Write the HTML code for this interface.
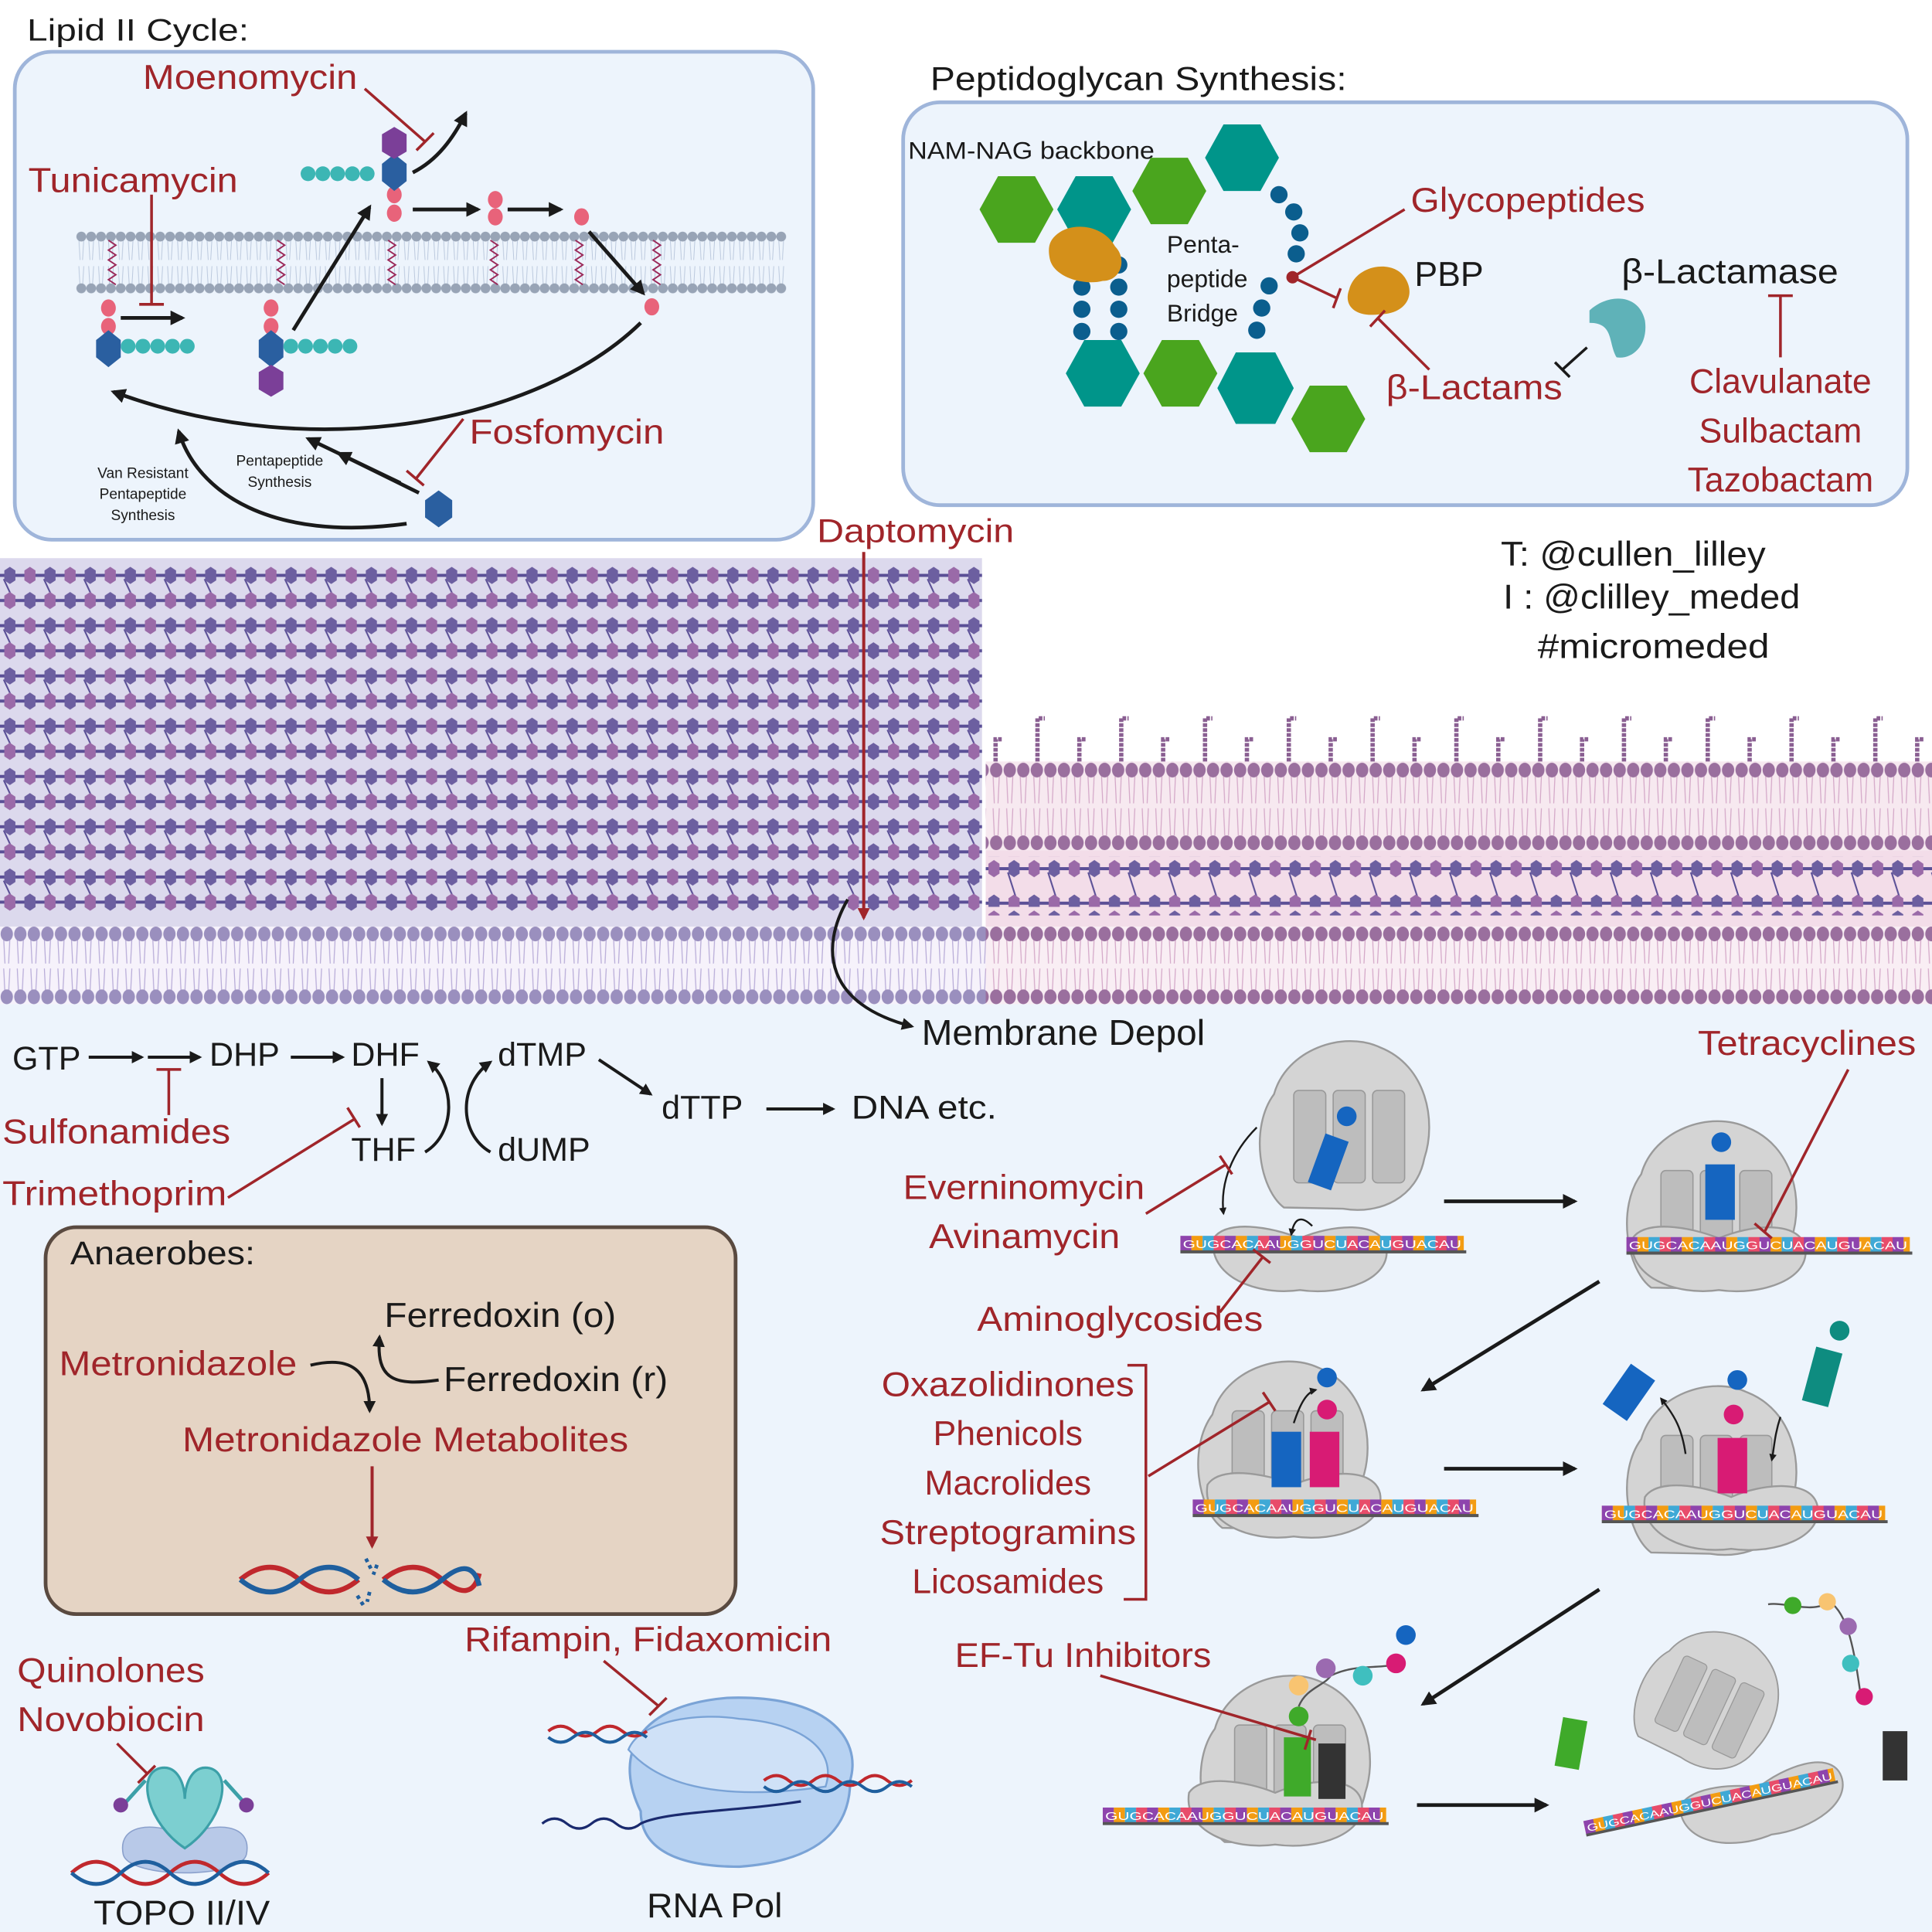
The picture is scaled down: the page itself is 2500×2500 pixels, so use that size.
<!DOCTYPE html>
<html><head><meta charset="utf-8"><style>
html,body{margin:0;padding:0;background:#fff}
svg{display:block}
text{font-family:"Liberation Sans",sans-serif}
.r{fill:#a0252a}
.k{fill:#1a1a1a}
</style></head><body>
<svg width="2500" height="2500" viewBox="0 0 1568 1568" xmlns="http://www.w3.org/2000/svg">
<defs>
 <marker id="ah" viewBox="0 0 10 10" refX="8" refY="5" markerWidth="4" markerHeight="4" orient="auto"><path d="M0,0L10,5L0,10Z" fill="#1a1a1a"/></marker>
 <marker id="ahr" viewBox="0 0 10 10" refX="8" refY="5" markerWidth="4" markerHeight="4" orient="auto"><path d="M0,0L10,5L0,10Z" fill="#a0252a"/></marker>
 <pattern id="pg" patternUnits="userSpaceOnUse" x="0" y="457" width="32.6" height="40.8">
  <line x1="0" y1="10" x2="33" y2="10" stroke="#5a4f96" stroke-width="2.5"/>
  <line x1="0" y1="30.4" x2="33" y2="30.4" stroke="#5a4f96" stroke-width="2.5"/>
  <line x1="3" y1="13" x2="10" y2="28" stroke="#5a4f96" stroke-width="1.3"/>
  <path d="M8,3l4.5,3v8l-4.5,3l-4.5,-3v-8z" fill="#6c5fa0"/><path d="M24.3,3l4.5,3v8l-4.5,3l-4.5,-3v-8z" fill="#9a6aa8"/>
  <path d="M8,23.4l4.5,3v8l-4.5,3l-4.5,-3v-8z" fill="#9a6aa8"/><path d="M24.3,23.4l4.5,3v8l-4.5,3l-4.5,-3v-8z" fill="#6c5fa0"/>
 </pattern>
 <pattern id="pg2" patternUnits="userSpaceOnUse" x="0" y="695" width="32.6" height="41">
  <line x1="0" y1="10" x2="33" y2="10" stroke="#5a4f96" stroke-width="2.5"/>
  <line x1="0" y1="38" x2="33" y2="38" stroke="#5a4f96" stroke-width="2.5"/>
  <line x1="3" y1="13" x2="10" y2="35" stroke="#5a4f96" stroke-width="1.3"/>
  <path d="M8,3l4.5,3v8l-4.5,3l-4.5,-3v-8z" fill="#6c5fa0"/><path d="M24.3,3l4.5,3v8l-4.5,3l-4.5,-3v-8z" fill="#9a6aa8"/>
  <path d="M8,31l4.5,3v8l-4.5,3l-4.5,-3v-8z" fill="#9a6aa8"/><path d="M24.3,31l4.5,3v8l-4.5,3l-4.5,-3v-8z" fill="#6c5fa0"/>
 </pattern>
 <pattern id="mem" patternUnits="userSpaceOnUse" x="0" y="752" width="11" height="63">
  <path d="M3,10L4,30M8,10L7,30M3,34L4,54M8,34L7,54" stroke="#b8acd8" stroke-width="0.8"/>
  <ellipse cx="5.5" cy="6" rx="5" ry="6" fill="#9a8fbe"/><ellipse cx="5.5" cy="57" rx="5" ry="6" fill="#9a8fbe"/>
 </pattern>
 <pattern id="memp" patternUnits="userSpaceOnUse" x="0" y="752" width="11" height="63">
  <path d="M3,10L4,30M8,10L7,30M3,34L4,54M8,34L7,54" stroke="#d4a8c8" stroke-width="0.8"/>
  <ellipse cx="5.5" cy="6" rx="5" ry="6" fill="#9a6f9e"/><ellipse cx="5.5" cy="57" rx="5" ry="6" fill="#9a6f9e"/>
 </pattern>
 <pattern id="om" patternUnits="userSpaceOnUse" x="0" y="618" width="11" height="72">
  <path d="M3,12L4,34M8,12L7,34M3,38L4,60M8,38L7,60" stroke="#d4a8c8" stroke-width="0.8"/>
  <ellipse cx="5.5" cy="7" rx="5" ry="6" fill="#9a6f9e"/><ellipse cx="5.5" cy="66" rx="5" ry="6" fill="#9a6f9e"/>
 </pattern>
 <pattern id="lm" patternUnits="userSpaceOnUse" x="62" y="186" width="8" height="55">
  <path d="M2,8L3,25M6,8L5,25M2,30L3,47M6,30L5,47" stroke="#b9c7dc" stroke-width="0.6"/>
  <circle cx="4" cy="6" r="4" fill="#98a4b6"/><circle cx="4" cy="48" r="4" fill="#98a4b6"/>
 </pattern>
 <pattern id="cod" patternUnits="userSpaceOnUse" width="36" height="14">
  <rect x="0" y="0" width="9" height="14" fill="#8e44ad"/><rect x="9" y="0" width="9" height="14" fill="#f39c12"/>
  <rect x="18" y="0" width="9" height="14" fill="#3fa9d6"/><rect x="27" y="0" width="9" height="14" fill="#e84c6a"/>
 </pattern>
 <g id="big">
  <path d="M22,140 C2,125 -6,75 14,48 C24,12 70,-4 100,10 C138,25 146,70 136,100 C130,132 100,146 70,141 Z" fill="#d4d4d4" stroke="#9a9a9a" stroke-width="1.5"/>
  <rect x="30" y="45" width="26" height="75" rx="4" fill="#bdbdbd" stroke="#999"/>
  <rect x="62" y="45" width="26" height="75" rx="4" fill="#bdbdbd" stroke="#999"/>
  <rect x="94" y="45" width="26" height="75" rx="4" fill="#bdbdbd" stroke="#999"/>
 </g>
 <g id="small">
  <path d="M5,15 C15,0 50,5 75,15 C100,4 140,0 145,22 C150,48 110,62 75,57 C40,62 0,46 5,15 Z" fill="#d4d4d4" stroke="#9a9a9a" stroke-width="1.5"/>
 </g>
 <g id="mrna">
  <rect x="0" y="0" width="230" height="12" fill="url(#cod)"/>
  <line x1="0" y1="13" x2="232" y2="13" stroke="#555" stroke-width="2.5"/>
  <text x="2" y="10" font-size="9" fill="#fff" textLength="226" lengthAdjust="spacingAndGlyphs">GUGCACAAUGGUCUACAUGUACAU</text>
 </g>
</defs>

<rect x="0" y="0" width="1568" height="1568" fill="#fff"/>
<rect x="0" y="812" width="1568" height="756" fill="#edf4fc"/>
<rect x="0" y="453" width="797" height="300" fill="#dcd9ed"/>
<rect x="0" y="457" width="797" height="285" fill="url(#pg)"/>
<rect x="800" y="690" width="768" height="62" fill="#f3dde9"/>
<rect x="800" y="695" width="768" height="48" fill="url(#pg2)"/>
<rect x="800" y="618" width="768" height="72" fill="#f7e9f0"/>
<rect x="800" y="618" width="768" height="72" fill="url(#om)"/>
<rect x="0" y="752" width="800" height="63" fill="#f6f2fb"/>
<rect x="0" y="752" width="800" height="63" fill="url(#mem)"/>
<rect x="800" y="752" width="768" height="63" fill="#f9eef4"/>
<rect x="800" y="752" width="768" height="63" fill="url(#memp)"/>
<g stroke="#8a5f92" stroke-width="3.5" stroke-dasharray="3,1" fill="none">
 <path d="M808,618V600h6M842,618V583h6M876,618V600h6M910,618V583h6M944,618V600h6M978,618V583h6M1012,618V600h6M1046,618V583h6M1080,618V600h6M1114,618V583h6M1148,618V600h6M1182,618V583h6M1216,618V600h6M1250,618V583h6M1284,618V600h6M1318,618V583h6M1352,618V600h6M1386,618V583h6M1420,618V600h6M1454,618V583h6M1488,618V600h6M1522,618V583h6M1556,618V600h6"/>
</g>
<line x1="701" y1="448" x2="701" y2="745" stroke="#a0252a" stroke-width="2.5" marker-end="url(#ahr)"/>
<path d="M688,730 C665,770 670,815 740,833" stroke="#1a1a1a" stroke-width="2.5" fill="none" marker-end="url(#ah)"/>
<text x="663" y="440" font-size="27" class="r" textLength="160" lengthAdjust="spacingAndGlyphs">Daptomycin</text>
<text x="748" y="848" font-size="29" class="k" textLength="230" lengthAdjust="spacingAndGlyphs">Membrane Depol</text>

<text x="22" y="33" font-size="25" class="k" textLength="180" lengthAdjust="spacingAndGlyphs">Lipid II Cycle:</text>
<rect x="12" y="42" width="648" height="396" rx="30" fill="#edf4fc" stroke="#9fb5da" stroke-width="3"/>
<rect x="62" y="186" width="576" height="55" fill="url(#lm)"/>
<g stroke="#9b2a5a" stroke-width="1.2" fill="none">
 <path d="M88,195l6,4l-6,4l6,4l-6,4l6,4l-6,4l6,4l-6,4l6,4M225,195l6,4l-6,4l6,4l-6,4l6,4l-6,4l6,4l-6,4l6,4M315,195l6,4l-6,4l6,4l-6,4l6,4l-6,4l6,4l-6,4l6,4M398,195l6,4l-6,4l6,4l-6,4l6,4l-6,4l6,4l-6,4l6,4M467,195l6,4l-6,4l6,4l-6,4l6,4l-6,4l6,4l-6,4l6,4M530,195l6,4l-6,4l6,4l-6,4l6,4l-6,4l6,4l-6,4l6,4"/>
</g>
<g fill="#e8637a">
 <ellipse cx="88" cy="250" rx="6" ry="7"/><ellipse cx="88" cy="265" rx="6" ry="7"/>
 <ellipse cx="220" cy="250" rx="6" ry="7"/><ellipse cx="220" cy="265" rx="6" ry="7"/>
 <ellipse cx="320" cy="158" rx="6" ry="7"/><ellipse cx="320" cy="173" rx="6" ry="7"/>
 <ellipse cx="402" cy="162" rx="6" ry="7"/><ellipse cx="402" cy="176" rx="6" ry="7"/>
 <ellipse cx="472" cy="176" rx="6" ry="7"/><ellipse cx="529" cy="249" rx="6" ry="7"/>
</g>
<g fill="#2a5fa0">
 <path d="M88,268l10,8v14l-10,8l-10,-8v-14z"/><path d="M220,268l10,8v14l-10,8l-10,-8v-14z"/>
 <path d="M320,125l10,8v14l-10,8l-10,-8v-14z"/><path d="M356,398l11,8v14l-11,8l-11,-8v-14z"/>
</g>
<g fill="#7b3f98"><path d="M220,296l10,6v14l-10,6l-10,-6v-14z"/><path d="M320,103l10,6v14l-10,6l-10,-6v-14z"/></g>
<g fill="#3cb6b4">
 <circle cx="104" cy="281" r="6"/><circle cx="116" cy="281" r="6"/><circle cx="128" cy="281" r="6"/><circle cx="140" cy="281" r="6"/><circle cx="152" cy="281" r="6"/>
 <circle cx="236" cy="281" r="6"/><circle cx="248" cy="281" r="6"/><circle cx="260" cy="281" r="6"/><circle cx="272" cy="281" r="6"/><circle cx="284" cy="281" r="6"/>
 <circle cx="250" cy="141" r="6"/><circle cx="262" cy="141" r="6"/><circle cx="274" cy="141" r="6"/><circle cx="286" cy="141" r="6"/><circle cx="298" cy="141" r="6"/>
</g>
<g stroke="#1a1a1a" stroke-width="3" fill="none" marker-end="url(#ah)">
 <line x1="98" y1="258" x2="148" y2="258"/><line x1="238" y1="268" x2="300" y2="168"/>
 <line x1="335" y1="170" x2="388" y2="170"/><line x1="412" y1="170" x2="455" y2="170"/>
 <line x1="478" y1="188" x2="522" y2="238"/><path d="M335,140 C355,130 368,112 378,92"/>
 <path d="M520,262 C440,340 260,380 92,318"/>
 <path d="M330,425 C220,440 160,400 145,350"/>
 <line x1="340" y1="400" x2="275" y2="368"/><line x1="325" y1="392" x2="250" y2="356"/>
</g>
<g stroke="#a0252a" stroke-width="2.2" fill="none">
 <path d="M123,158V247M113,247h20"/>
 <path d="M296,72L345,115M338,122l14,-14"/>
 <path d="M376,340L338,388M330,382l14,12"/>
</g>
<text x="116" y="72" font-size="28" class="r" textLength="174" lengthAdjust="spacingAndGlyphs">Moenomycin</text>
<text x="23" y="156" font-size="28" class="r" textLength="170" lengthAdjust="spacingAndGlyphs">Tunicamycin</text>
<text x="381" y="360" font-size="28" class="r" textLength="158" lengthAdjust="spacingAndGlyphs">Fosfomycin</text>
<g font-size="12" class="k" text-anchor="middle">
 <text x="116" y="388">Van Resistant</text><text x="116" y="405">Pentapeptide</text><text x="116" y="422">Synthesis</text>
 <text x="227" y="378">Pentapeptide</text><text x="227" y="395">Synthesis</text>
</g>

<text x="755" y="73" font-size="27" class="k" textLength="338" lengthAdjust="spacingAndGlyphs">Peptidoglycan Synthesis:</text>
<rect x="733" y="83" width="815" height="327" rx="30" fill="#edf4fc" stroke="#9fb5da" stroke-width="3"/>
<text x="737" y="129" font-size="20" class="k" textLength="200" lengthAdjust="spacingAndGlyphs">NAM-NAG backbone</text>
<g>
 <path d="M795,170l15,-27h30l15,27l-15,27h-30z" fill="#4aa51e"/>
 <path d="M858,170l15,-27h30l15,27l-15,27h-30z" fill="#00958a"/>
 <path d="M919,155l15,-27h30l15,27l-15,27h-30z" fill="#4aa51e"/>
 <path d="M978,128l15,-27h30l15,27l-15,27h-30z" fill="#00958a"/>
 <path d="M865,303l15,-27h30l15,27l-15,27h-30z" fill="#00958a"/>
 <path d="M928,303l15,-27h30l15,27l-15,27h-30z" fill="#4aa51e"/>
 <path d="M988,315l15,-29h32l15,29l-15,29h-32z" fill="#00958a"/>
 <path d="M1048,340l15,-27h30l15,27l-15,27h-30z" fill="#4aa51e"/>
</g>
<g fill="#0b5e8e">
 <circle cx="878" cy="215" r="7"/><circle cx="878" cy="233" r="7"/><circle cx="878" cy="251" r="7"/><circle cx="878" cy="269" r="7"/>
 <circle cx="908" cy="215" r="7"/><circle cx="908" cy="233" r="7"/><circle cx="908" cy="251" r="7"/><circle cx="908" cy="269" r="7"/>
 <circle cx="1038" cy="158" r="7"/><circle cx="1050" cy="172" r="7"/><circle cx="1055" cy="189" r="7"/><circle cx="1052" cy="206" r="7"/>
 <circle cx="1030" cy="232" r="7"/><circle cx="1024" cy="250" r="7"/><circle cx="1020" cy="268" r="7"/>
</g>
<path d="M858,190 C870,180 895,182 905,200 C915,210 910,228 895,228 C880,232 855,225 852,210 C850,200 852,195 858,190Z" fill="#d4901a"/>
<path d="M1095,235 C1100,215 1130,210 1140,225 C1150,240 1140,255 1120,255 C1100,258 1090,248 1095,235Z" fill="#d4901a"/>
<path d="M1290,252 C1305,238 1330,238 1335,260 C1338,280 1325,292 1312,290 C1305,278 1310,262 1290,262Z" fill="#5fb2b8"/>
<circle cx="1049" cy="225" r="5" fill="#a0252a"/>
<g stroke="#a0252a" stroke-width="2.2" fill="none">
 <path d="M1140,170L1049,225L1085,242M1082,250l6,-16"/>
 <path d="M1160,300L1118,258M1112,265l12,-13"/>
 <path d="M1445,290V240M1435,240h20"/>
</g>
<path d="M1288,282L1268,300M1262,294l12,12" stroke="#1a1a1a" stroke-width="2.2"/>
<text x="947" y="205" font-size="20" class="k">Penta-</text>
<text x="947" y="233" font-size="20" class="k">peptide</text>
<text x="947" y="261" font-size="20" class="k">Bridge</text>
<text x="1145" y="172" font-size="28" class="r" textLength="190" lengthAdjust="spacingAndGlyphs">Glycopeptides</text>
<text x="1148" y="232" font-size="28" class="k">PBP</text>
<text x="1316" y="230" font-size="28" class="k" textLength="176" lengthAdjust="spacingAndGlyphs">β-Lactamase</text>
<text x="1125" y="324" font-size="28" class="r" textLength="143" lengthAdjust="spacingAndGlyphs">β-Lactams</text>
<g font-size="28" class="r" text-anchor="middle"><text x="1445" y="319">Clavulanate</text><text x="1445" y="359">Sulbactam</text><text x="1445" y="399">Tazobactam</text></g>
<g font-size="28" class="k"><text x="1218" y="459" textLength="215" lengthAdjust="spacingAndGlyphs">T: @cullen_lilley</text><text x="1220" y="494" textLength="241" lengthAdjust="spacingAndGlyphs">I : @clilley_meded</text><text x="1248" y="534" textLength="188" lengthAdjust="spacingAndGlyphs">#micromeded</text></g>

<g font-size="27" class="k">
 <text x="10" y="868">GTP</text><text x="170" y="865">DHP</text><text x="285" y="865">DHF</text><text x="404" y="865">dTMP</text>
 <text x="285" y="942">THF</text><text x="404" y="942">dUMP</text><text x="537" y="908">dTTP</text><text x="691" y="908" textLength="118" lengthAdjust="spacingAndGlyphs">DNA etc.</text>
</g>
<g stroke="#1a1a1a" stroke-width="2.5" fill="none" marker-end="url(#ah)">
 <line x1="72" y1="858" x2="115" y2="858"/><line x1="120" y1="858" x2="162" y2="858"/><line x1="236" y1="858" x2="278" y2="858"/>
 <line x1="310" y1="875" x2="310" y2="912"/><line x1="486" y1="860" x2="528" y2="888"/><line x1="622" y1="900" x2="676" y2="900"/>
 <path d="M345,935 C370,920 370,880 348,862"/><path d="M398,935 C372,920 372,880 398,862"/>
</g>
<g stroke="#a0252a" stroke-width="2.2" fill="none"><path d="M137,905V868M127,868h20"/><path d="M185,972L288,908M282,899l10,16"/></g>
<text x="2" y="928" font-size="28" class="r" textLength="185" lengthAdjust="spacingAndGlyphs">Sulfonamides</text>
<text x="2" y="978" font-size="28" class="r" textLength="182" lengthAdjust="spacingAndGlyphs">Trimethoprim</text>

<rect x="37" y="996" width="560" height="314" rx="25" fill="#e5d4c4" stroke="#5a4a40" stroke-width="3"/>
<text x="57" y="1026" font-size="27" class="k" textLength="150" lengthAdjust="spacingAndGlyphs">Anaerobes:</text>
<text x="312" y="1077" font-size="28" class="k" textLength="188" lengthAdjust="spacingAndGlyphs">Ferredoxin (o)</text>
<text x="48" y="1116" font-size="28" class="r" textLength="193" lengthAdjust="spacingAndGlyphs">Metronidazole</text>
<text x="360" y="1129" font-size="28" class="k" textLength="182" lengthAdjust="spacingAndGlyphs">Ferredoxin (r)</text>
<text x="148" y="1178" font-size="28" class="r" textLength="362" lengthAdjust="spacingAndGlyphs">Metronidazole Metabolites</text>
<g stroke="#1a1a1a" stroke-width="2.5" fill="none" marker-end="url(#ah)">
 <path d="M252,1108 C285,1100 300,1112 300,1145"/><path d="M356,1120 C320,1125 305,1120 308,1085"/>
</g>
<line x1="302" y1="1190" x2="302" y2="1255" stroke="#a0252a" stroke-width="2.5" marker-end="url(#ahr)"/>
<path d="M195,1282 q24,-20 48,0 t48,0 M311,1282 q24,-20 48,0 t30,-5" stroke="#c0282d" stroke-width="4" fill="none"/>
<path d="M195,1282 q24,20 48,0 t48,0 M311,1282 q24,20 48,0 t30,5" stroke="#1f5f9e" stroke-width="4" fill="none"/>
<path d="M297,1265l4,8M306,1270l-3,8M290,1295l5,8M300,1292l-2,8" stroke="#1f5f9e" stroke-width="3" stroke-dasharray="3,3"/>

<text x="14" y="1365" font-size="28" class="r" textLength="152" lengthAdjust="spacingAndGlyphs">Quinolones</text>
<text x="14" y="1405" font-size="28" class="r" textLength="152" lengthAdjust="spacingAndGlyphs">Novobiocin</text>
<path d="M95,1415L120,1440M112,1447l14,-14" stroke="#a0252a" stroke-width="2.2" fill="none"/>
<path d="M100,1505 C95,1480 125,1478 150,1490 C175,1478 205,1480 200,1505 C195,1525 105,1525 100,1505Z" fill="#b8c9e8" stroke="#8aa0cc"/>
<path d="M150,1500 C120,1480 110,1440 130,1435 C145,1432 150,1450 150,1460 C150,1450 155,1432 170,1435 C190,1440 180,1480 150,1500Z" fill="#7ccfd0" stroke="#3ca0a8" stroke-width="2"/>
<path d="M118,1445 L100,1465M182,1445L200,1465" stroke="#3ca0a8" stroke-width="3"/>
<circle cx="98" cy="1465" r="6" fill="#7b3f98"/><circle cx="200" cy="1465" r="6" fill="#7b3f98"/>
<path d="M58,1520 q20,-18 40,0 t40,0 t40,0 t40,0" stroke="#c0282d" stroke-width="3" fill="none"/>
<path d="M58,1520 q20,18 40,0 t40,0 t40,0 t40,0" stroke="#1f5f9e" stroke-width="3" fill="none"/>
<text x="76" y="1562" font-size="28" class="k" textLength="143" lengthAdjust="spacingAndGlyphs">TOPO II/IV</text>

<text x="377" y="1340" font-size="28" class="r" textLength="298" lengthAdjust="spacingAndGlyphs">Rifampin, Fidaxomicin</text>
<path d="M490,1348L535,1385M527,1392l14,-14" stroke="#a0252a" stroke-width="2.2" fill="none"/>
<path d="M520,1470 C500,1430 510,1385 590,1378 C670,1375 700,1410 690,1445 C690,1480 670,1510 600,1515 C540,1515 520,1495 520,1470Z" fill="#b7d2f2" stroke="#7aa3d6" stroke-width="2"/>
<path d="M510,1420 C520,1395 570,1390 600,1395 C650,1398 680,1420 670,1450 C600,1460 540,1455 510,1420Z" fill="#cfe1f7" stroke="#7aa3d6" stroke-width="1.5"/>
<path d="M445,1405 q10,-8 20,0 t20,0 t20,0 t20,0M620,1445 q10,-8 20,0 t20,0 t20,0 t20,0 t20,0 t20,0" stroke="#c0282d" stroke-width="2.5" fill="none"/>
<path d="M445,1410 q10,8 20,0 t20,0 t20,0 t20,0M620,1450 q10,8 20,0 t20,0 t20,0 t20,0 t20,0 t20,0" stroke="#1f5f9e" stroke-width="2.5" fill="none"/>
<path d="M440,1480 q10,-8 20,0 t20,0 t20,0 t20,0 C540,1470 600,1470 650,1462" stroke="#1a2a6e" stroke-width="2" fill="none"/>
<text x="525" y="1556" font-size="28" class="k" textLength="110" lengthAdjust="spacingAndGlyphs">RNA Pol</text>

<use href="#big" x="1020" y="840"/><use href="#small" x="980" y="990"/><use href="#mrna" x="958" y="1003"/>
<rect x="1068" y="922" width="20" height="42" fill="#1565c0" transform="rotate(20 1078 943)"/><circle cx="1093" cy="906" r="8" fill="#1565c0"/>
<use href="#big" x="1318" y="905"/><use href="#small" x="1320" y="990"/><use href="#mrna" x="1320" y="1004"/>
<rect x="1384" y="945" width="24" height="45" fill="#1565c0"/><circle cx="1397" cy="927" r="8" fill="#1565c0"/>
<use href="#big" x="970" y="1100"/><use href="#small" x="975" y="1190"/><use href="#mrna" x="968" y="1217"/>
<rect x="1032" y="1162" width="24" height="45" fill="#1565c0"/><rect x="1063" y="1162" width="24" height="45" fill="#d81b74"/>
<circle cx="1077" cy="1144" r="8" fill="#d81b74"/><circle cx="1077" cy="1118" r="8" fill="#1565c0"/>
<use href="#big" x="1318" y="1120"/><use href="#small" x="1330" y="1200"/><use href="#mrna" x="1300" y="1222"/>
<rect x="1394" y="1167" width="24" height="45" fill="#d81b74"/><circle cx="1407" cy="1148" r="8" fill="#d81b74"/><circle cx="1410" cy="1120" r="8" fill="#1565c0"/>
<rect x="1310" y="1110" width="24" height="40" fill="#1565c0" transform="rotate(35 1322 1130)"/>
<rect x="1468" y="1095" width="22" height="45" fill="#0e8c80" transform="rotate(15 1479 1117)"/><circle cx="1493" cy="1080" r="8" fill="#0e8c80"/>
<use href="#big" x="972" y="1355"/><use href="#small" x="960" y="1440"/><use href="#mrna" x="895" y="1467"/>
<rect x="1042" y="1410" width="22" height="48" fill="#3faa2a"/><rect x="1070" y="1415" width="22" height="45" fill="#333"/>
<g fill="none" stroke="#555" stroke-width="1.5"><path d="M1054,1385 C1060,1370 1075,1368 1080,1360 C1100,1350 1120,1355 1135,1350"/></g>
<circle cx="1054" cy="1393" r="8" fill="#3faa2a"/><circle cx="1054" cy="1368" r="8" fill="#f8c471"/><circle cx="1076" cy="1354" r="8" fill="#9b6ab0"/><circle cx="1106" cy="1360" r="8" fill="#3fbfbf"/><circle cx="1133" cy="1350" r="8" fill="#d81b74"/><circle cx="1141" cy="1327" r="8" fill="#1565c0"/>
<use href="#big" transform="translate(1330,1320) rotate(25 60 60) scale(0.8)"/>
<use href="#small" transform="translate(1355,1455) rotate(-15) scale(0.95)"/>
<use href="#mrna" transform="translate(1285,1478) rotate(-12) scale(0.9)"/>
<rect x="1265" y="1395" width="20" height="40" fill="#3faa2a" transform="rotate(10 1275 1415)"/>
<rect x="1528" y="1405" width="20" height="40" fill="#333"/>
<g fill="none" stroke="#555" stroke-width="1.5"><path d="M1435,1302 C1450,1300 1470,1310 1485,1300 C1500,1310 1505,1340 1510,1375"/></g>
<circle cx="1455" cy="1303" r="7" fill="#3faa2a"/><circle cx="1483" cy="1300" r="7" fill="#f8c471"/><circle cx="1500" cy="1320" r="7" fill="#9b6ab0"/><circle cx="1502" cy="1350" r="7" fill="#3fbfbf"/><circle cx="1513" cy="1377" r="7" fill="#d81b74"/>

<g stroke="#1a1a1a" stroke-width="3" fill="none" marker-end="url(#ah)">
 <line x1="1172" y1="975" x2="1278" y2="975"/><line x1="1172" y1="1192" x2="1278" y2="1192"/><line x1="1150" y1="1465" x2="1255" y2="1465"/>
 <line x1="1298" y1="1040" x2="1155" y2="1128"/><line x1="1298" y1="1290" x2="1155" y2="1383"/>
</g>
<g stroke="#1a1a1a" stroke-width="1.5" fill="none" marker-end="url(#ah)">
 <path d="M1020,915 C1000,935 990,960 993,985"/><path d="M1065,995 C1055,985 1050,990 1048,1002"/>
 <path d="M1050,1155 C1055,1140 1060,1130 1068,1128"/><path d="M1368,1180 C1365,1160 1360,1150 1348,1135"/><path d="M1445,1150 C1440,1165 1440,1175 1438,1185"/>
</g>
<g stroke="#a0252a" stroke-width="2.2" fill="none">
 <path d="M930,985L995,945M990,938l10,15"/><path d="M990,1065L1025,1020M1017,1014l14,11"/>
 <path d="M1500,868L1432,1000M1424,993l14,12"/>
 <path d="M932,1198L1030,1138M1025,1130l10,15"/>
 <path d="M915,1108H930V1298H912"/>
 <path d="M893,1360L1068,1412M1064,1404l-5,16"/>
</g>
<text x="1378" y="856" font-size="28" class="r" textLength="177" lengthAdjust="spacingAndGlyphs">Tetracyclines</text>
<text x="733" y="973" font-size="28" class="r" textLength="196" lengthAdjust="spacingAndGlyphs">Everninomycin</text>
<text x="754" y="1013" font-size="28" class="r" textLength="155" lengthAdjust="spacingAndGlyphs">Avinamycin</text>
<text x="793" y="1080" font-size="28" class="r" textLength="232" lengthAdjust="spacingAndGlyphs">Aminoglycosides</text>
<g font-size="28" class="r" text-anchor="middle">
 <text x="818" y="1133" textLength="205" lengthAdjust="spacingAndGlyphs">Oxazolidinones</text><text x="818" y="1173">Phenicols</text><text x="818" y="1213">Macrolides</text><text x="818" y="1253" textLength="208" lengthAdjust="spacingAndGlyphs">Streptogramins</text><text x="818" y="1293">Licosamides</text>
</g>
<text x="775" y="1353" font-size="28" class="r" textLength="208" lengthAdjust="spacingAndGlyphs">EF-Tu Inhibitors</text>
</svg>
</body></html>
